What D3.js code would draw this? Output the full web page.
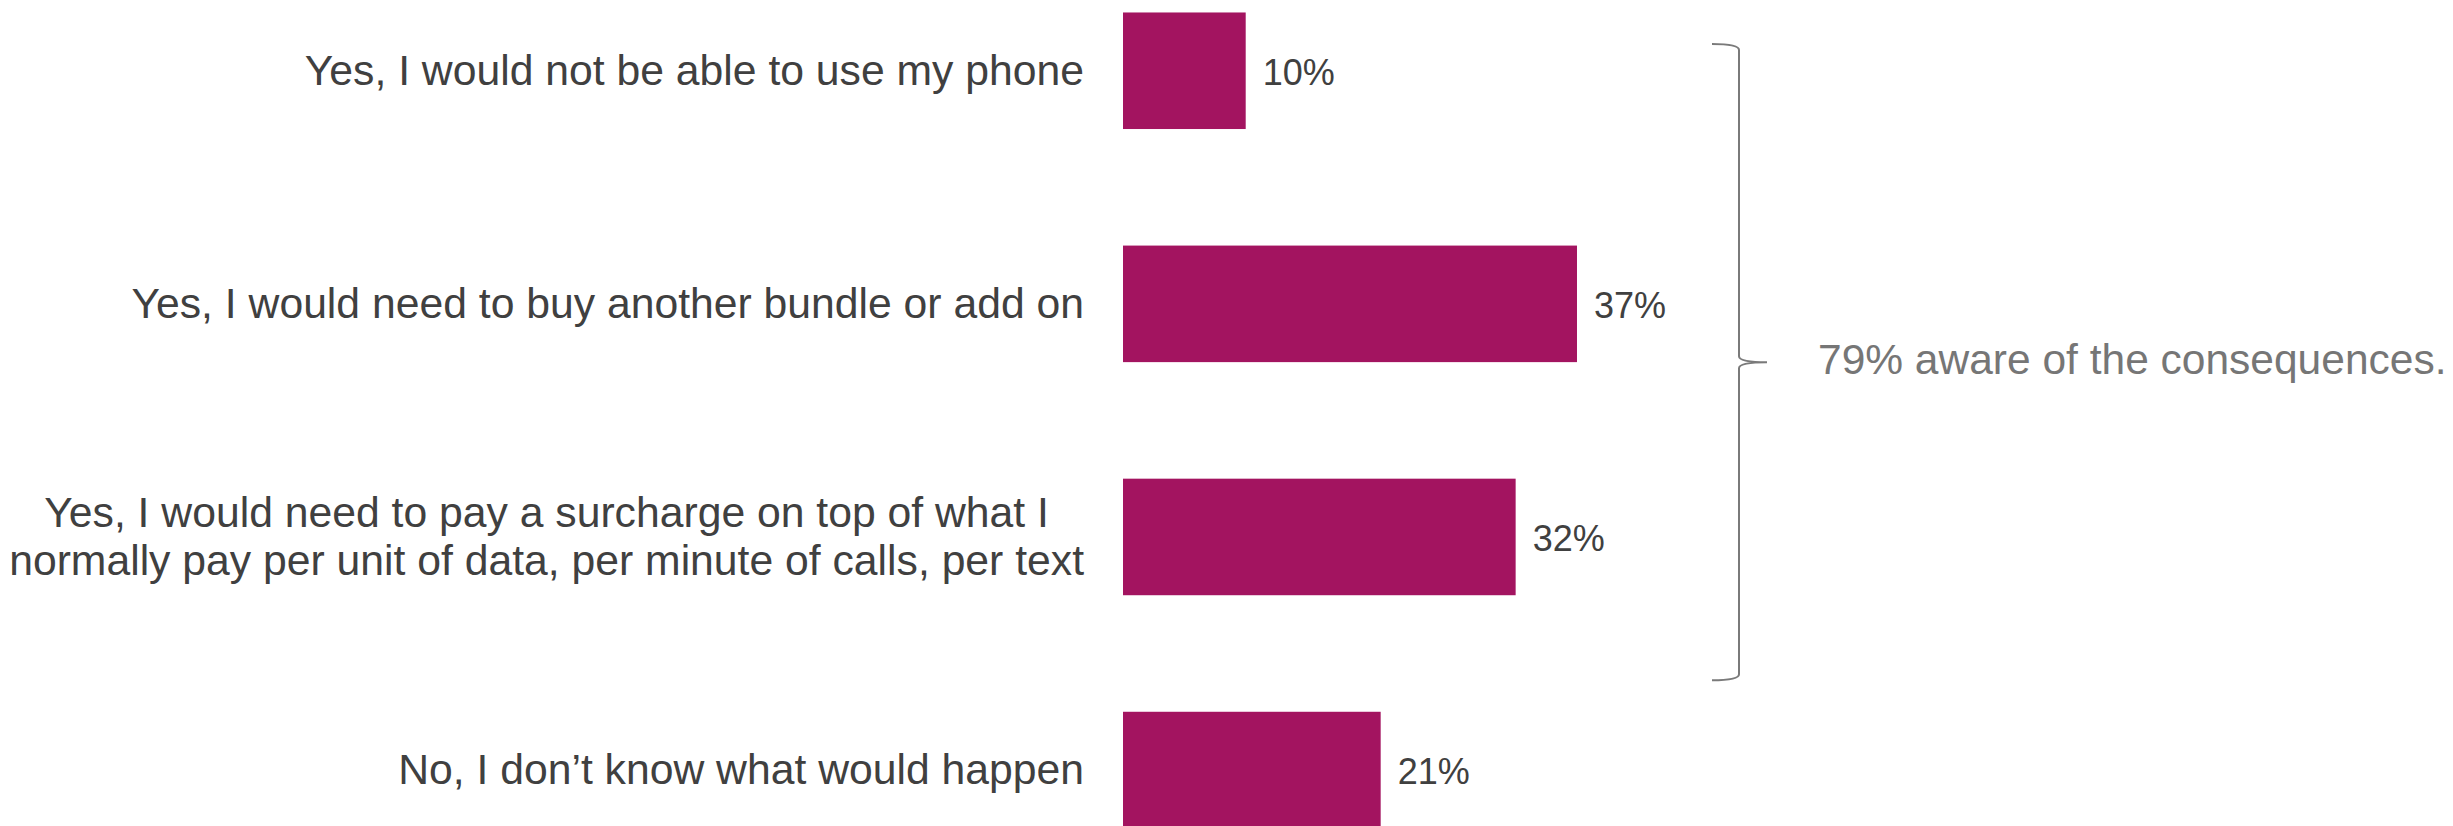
<!DOCTYPE html>
<html>
<head>
<meta charset="utf-8">
<script src="https://cdn.jsdelivr.net/npm/d3@7"></script>
<style>
  html, body { margin: 0; padding: 0; background: #ffffff; }
  svg { display: block; }
</style>
</head>
<body>
<svg id="chart" width="2453" height="826"></svg>
<script>
// ---- data ----
const categories = [
  ["Yes, I would not be able to use my phone"],
  ["Yes, I would need to buy another bundle or add on"],
  ["Yes, I would need to pay a surcharge on top of what I", "normally pay per unit of data, per minute of calls, per text"],
  ["No, I don\u2019t know what would happen"]
];
const categoryKeys = ["unable", "bundle", "surcharge", "dontknow"];
const values = [10, 37, 32, 21];
const annotationText = "79% aware of the consequences.";
const bracketGroup = [0, 2]; // first and last category index covered by the brace

(function () {
// ---- layout ----
const svg = d3.select("#chart");
const font = "'Liberation Sans', Arial, Helvetica, sans-serif";
const barColor = "#a31460";
const textColor = "#404040";
const greyColor = "#767676";

const x = d3.scaleLinear().domain([0, 100]).range([1123, 1123 + 1227]);
const y = d3.scaleBand().domain(categoryKeys).range([-45.8, 886.6])
  .paddingInner(0.5).paddingOuter(0.25);
const bw = y.bandwidth();

// bars
svg.append("g").selectAll("rect")
  .data(values)
  .join("rect")
  .attr("x", x(0))
  .attr("y", (d, i) => y(categoryKeys[i]))
  .attr("width", d => x(d) - x(0))
  .attr("height", bw)
  .attr("fill", barColor);

// value labels
svg.append("g").selectAll("text")
  .data(values)
  .join("text")
  .attr("x", d => x(d) + 17)
  .attr("y", (d, i) => y(categoryKeys[i]) + bw / 2 + 14)
  .attr("font-family", font)
  .attr("font-size", "36px")
  .attr("fill", textColor)
  .text(d => d + "%");

// category labels (right aligned block; multi-line centered within block)
const labelRight = x(0) - 39;
const lineH = 48;
const lg = svg.append("g");
categories.forEach((lines, i) => {
  const cy = y(categoryKeys[i]) + bw / 2 + 14;
  const t = lg.append("text")
    .attr("font-family", font)
    .attr("font-size", "42.7px")
    .attr("fill", textColor);
  const n = lines.length;
  const spans = lines.map((ln, j) => t.append("tspan")
    .attr("y", cy + (j - (n - 1) / 2) * lineH)
    .text(ln));
  if (n === 1) {
    t.attr("text-anchor", "end");
    spans[0].attr("x", labelRight);
  } else {
    const maxW = d3.max(spans, s => s.node().getComputedTextLength());
    t.attr("text-anchor", "middle");
    spans.forEach(s => s.attr("x", labelRight - maxW / 2));
  }
});

// brace
const braceTop = y(categoryKeys[bracketGroup[0]]) + 0.27 * bw;
const braceBot = y(categoryKeys[bracketGroup[1]]) + bw + 0.73 * bw;
const braceMid = (braceTop + braceBot) / 2;
const bx = 1739, bl = 1712, tip = 1767, r = 6;
const p = d3.path();
p.moveTo(bl, braceTop);
p.quadraticCurveTo(bx, braceTop, bx, braceTop + r);
p.lineTo(bx, braceMid - r);
p.quadraticCurveTo(bx, braceMid, tip, braceMid);
p.moveTo(tip, braceMid);
p.quadraticCurveTo(bx, braceMid, bx, braceMid + r);
p.lineTo(bx, braceBot - r);
p.quadraticCurveTo(bx, braceBot, bl, braceBot);
svg.append("path")
  .attr("d", p.toString())
  .attr("fill", "none")
  .attr("stroke", "#7a7a7a")
  .attr("stroke-width", 2);

// annotation
svg.append("text")
  .attr("x", 1818)
  .attr("y", braceMid + 12)
  .attr("font-family", font)
  .attr("font-size", "42.5px")
  .attr("fill", greyColor)
  .text(annotationText);
})();
</script>
</body>
</html>
